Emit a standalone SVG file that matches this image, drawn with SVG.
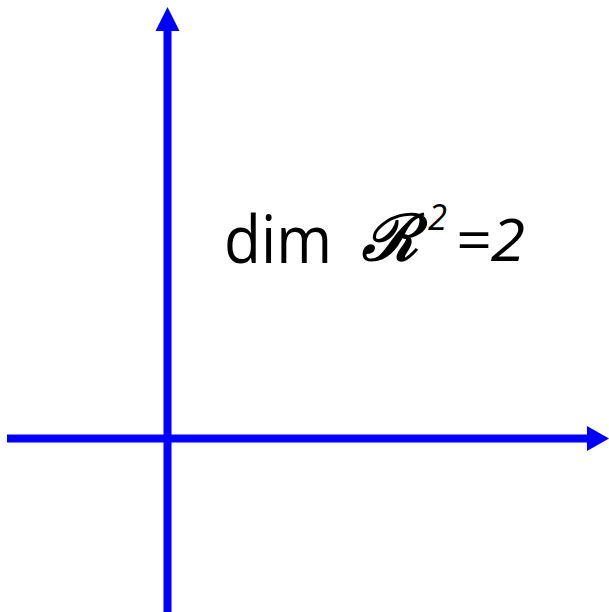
<svg xmlns="http://www.w3.org/2000/svg" width="609" height="612" viewBox="0 0 609 612">
<style>
.ax{stroke:#0000ff;stroke-width:8;fill:none}
.hd{fill:#0000ff}
.t{font-family:"Open Sans","Noto Sans",sans-serif;fill:#000}
</style>
<rect width="609" height="612" fill="#fff"/>
<g id="connectors">
<line class="ax" x1="167.5" y1="612" x2="167.5" y2="28"/>
<polygon class="hd" points="167.5,7 179.5,31 155.5,31"/>
<line class="ax" x1="7" y1="438.5" x2="590" y2="438.5"/>
<polygon class="hd" points="609,438.5 587,426 587,451"/>
</g>
<g id="label">
<text class="t" x="224" y="263" style="font-size:66px" textLength="108" lengthAdjust="spacingAndGlyphs">dim</text>
<text x="362" y="260" style="font-family:'DejaVu Serif',serif;font-size:64px;font-weight:bold;font-style:italic">ℛ</text>
<text class="t" x="428" y="230" style="font-size:36px;font-style:italic" textLength="19" lengthAdjust="spacingAndGlyphs">2</text>
<text class="t" x="455" y="261" style="font-size:58px;font-style:italic" textLength="70" lengthAdjust="spacingAndGlyphs">=2</text>
</g>
</svg>
